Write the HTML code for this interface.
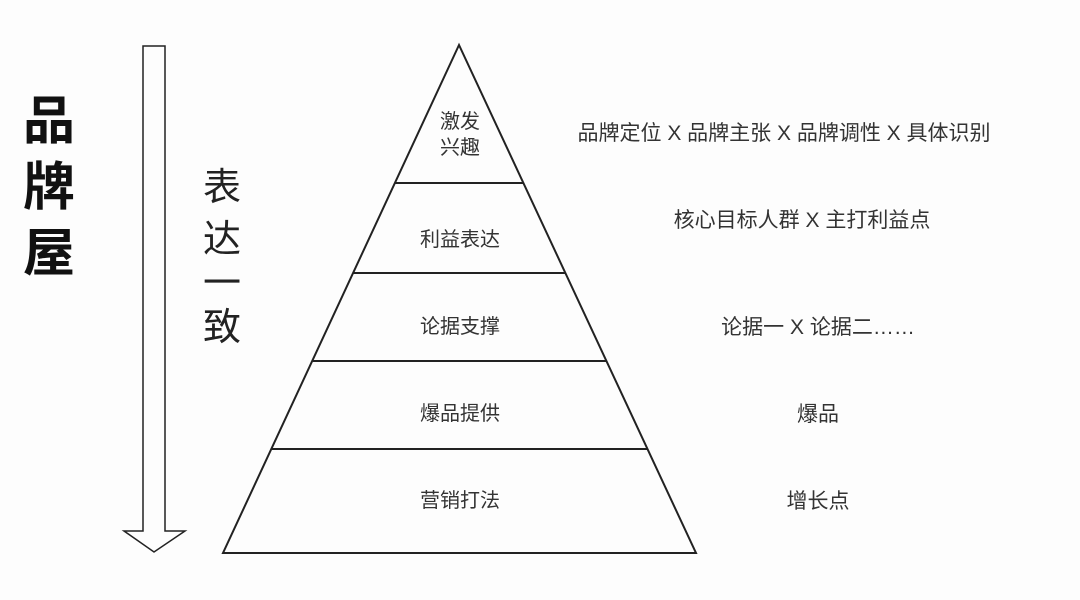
<!DOCTYPE html>
<html><head><meta charset="utf-8"><style>
body{margin:0;width:1080px;height:600px;background:#fdfdfd;overflow:hidden;font-family:"Liberation Sans","Noto Sans CJK SC",sans-serif}
svg{position:absolute;left:0;top:0}
</style></head><body>
<svg width="1080" height="600" viewBox="0 0 1080 600">
<g fill="none" stroke="#222" stroke-width="2">
<polygon points="459,45 223,553 696,553"/>
<line x1="395" y1="183" x2="523" y2="183"/>
<line x1="353" y1="273" x2="565" y2="273"/>
<line x1="313" y1="361" x2="606" y2="361"/>
<line x1="272" y1="449" x2="647" y2="449"/>
<polygon stroke-width="1.5" points="143,46 165,46 165,531 185,531 154,552 124,531 143,531"/>
</g>
<g font-family="Liberation Sans, Noto Sans CJK SC, sans-serif" fill="#333" font-size="20" text-anchor="middle">
<text x="460" y="128">激发</text>
<text x="460" y="154">兴趣</text>
<text x="460" y="246">利益表达</text>
<text x="460" y="333">论据支撑</text>
<text x="460" y="420">爆品提供</text>
<text x="460" y="507">营销打法</text>
</g>
<g font-family="Liberation Sans, Noto Sans CJK SC, sans-serif" fill="#333" font-size="21" text-anchor="middle">
<text x="784" y="140">品牌定位 X 品牌主张 X 品牌调性 X 具体识别</text>
<text x="802" y="227">核心目标人群 X 主打利益点</text>
<text x="818" y="334">论据一 X 论据二……</text>
<text x="818" y="421">爆品</text>
<text x="818" y="508">增长点</text>
</g>
<g font-family="Liberation Sans, Noto Sans CJK SC, sans-serif" fill="#111" font-size="52" font-weight="bold" text-anchor="middle">
<text x="49" y="139">品</text>
<text x="49" y="205">牌</text>
<text x="49" y="271">屋</text>
</g>
<g font-family="Liberation Sans, Noto Sans CJK SC, sans-serif" fill="#222" font-size="38" text-anchor="middle">
<text x="222" y="200">表</text>
<text x="222" y="252">达</text>
<text x="222" y="296">一</text>
<text x="222" y="340">致</text>
</g>
</svg>
</body></html>
